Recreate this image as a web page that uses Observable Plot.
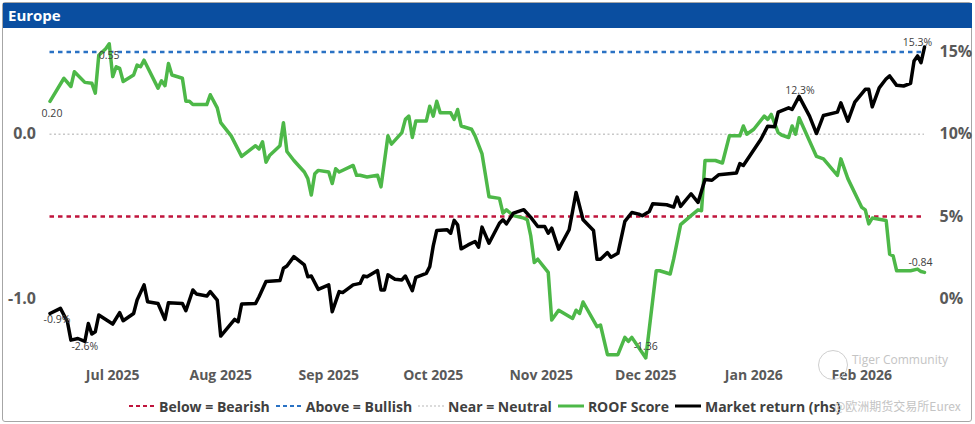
<!DOCTYPE html>
<html><head><meta charset="utf-8">
<script src="https://cdn.jsdelivr.net/npm/d3@7"></script>
<script src="https://cdn.jsdelivr.net/npm/@observablehq/plot@0.6"></script>
<style>
body{margin:0;background:#fff;font-family:"Open Sans",sans-serif;width:975px;height:424px;position:relative;overflow:hidden}
#frame{position:absolute;left:2px;top:2px;width:968px;height:418px;border:1px solid #a6a6a6;border-radius:3px}
#head{position:absolute;left:3px;top:3px;width:969px;height:25px;background:#0a4ea0;color:#fff;font-weight:700;font-size:15px;line-height:25px;padding-left:5px;box-sizing:border-box}
#chart{position:absolute;left:0;top:28px}
#legend{position:absolute;left:128px;top:396px;height:20px;display:flex;align-items:center;font-weight:700;font-size:14px;color:#404040;white-space:nowrap}
#legend .it{display:flex;align-items:center;margin-right:5px}
#legend svg{margin-right:3px}
.wm{position:absolute;color:#c4c4c4;white-space:nowrap}
</style></head>
<body>
<div id="frame"></div>
<div id="head">Europe</div>
<div id="chart"></div>
<div id="legend"></div>
<div class="wm" style="left:818px;top:350px;width:28px;height:28px;border:1px solid #cfcfcf;border-radius:50%"></div>
<div class="wm" style="left:852px;top:352px;font-size:12px;line-height:15px">Tiger Community</div>
<div class="wm" style="left:834px;top:398px;font-size:12px;line-height:15px;font-family:'Noto Sans CJK SC',sans-serif">@欧洲期货交易所Eurex</div>
<script>
// ROOF Score (left axis)
const scoreDates = ["2025-06-13","2025-06-17","2025-06-19","2025-06-20","2025-06-23","2025-06-25","2025-06-26","2025-06-27","2025-06-29","2025-06-30",
"2025-07-01","2025-07-02","2025-07-03","2025-07-04","2025-07-07","2025-07-08","2025-07-09","2025-07-10","2025-07-14","2025-07-15",
"2025-07-16","2025-07-17","2025-07-18","2025-07-21","2025-07-22","2025-07-23","2025-07-24","2025-07-28","2025-07-29","2025-07-31",
"2025-08-01","2025-08-04","2025-08-07","2025-08-11","2025-08-12","2025-08-13","2025-08-14","2025-08-15","2025-08-18","2025-08-19",
"2025-08-20","2025-08-22","2025-08-25","2025-08-26","2025-08-27","2025-08-28","2025-08-29","2025-09-01","2025-09-02","2025-09-03",
"2025-09-04","2025-09-08","2025-09-09","2025-09-10","2025-09-12","2025-09-15","2025-09-16","2025-09-18","2025-09-19","2025-09-22",
"2025-09-23","2025-09-24","2025-09-25","2025-09-26","2025-09-29","2025-09-30","2025-10-01","2025-10-02","2025-10-03","2025-10-06",
"2025-10-07","2025-10-08","2025-10-09","2025-10-12","2025-10-13","2025-10-15","2025-10-16","2025-10-17","2025-10-20","2025-10-21",
"2025-10-22","2025-10-24","2025-10-27","2025-10-28","2025-10-29","2025-10-30","2025-10-31","2025-11-03","2025-11-04","2025-11-06",
"2025-11-10","2025-11-11","2025-11-12","2025-11-13","2025-11-17","2025-11-18","2025-11-20","2025-11-23","2025-11-25","2025-11-26",
"2025-11-27","2025-12-01","2025-12-04","2025-12-05","2025-12-08","2025-12-09","2025-12-11","2025-12-14","2025-12-16","2025-12-17",
"2025-12-18","2025-12-21","2025-12-23","2025-12-25","2025-12-28","2025-12-29","2025-12-30","2026-01-01","2026-01-04","2026-01-05",
"2026-01-06","2026-01-08","2026-01-09","2026-01-11","2026-01-12","2026-01-13","2026-01-14","2026-01-19","2026-01-21","2026-01-25",
"2026-01-26","2026-01-28","2026-02-01","2026-02-02","2026-02-03","2026-02-04","2026-02-08","2026-02-09","2026-02-10","2026-02-11",
"2026-02-15","2026-02-17","2026-02-18","2026-02-19"];
const scoreValues = [0.20,0.34,0.29,0.38,0.315,0.31,0.25,0.48,0.52,0.55,
0.35,0.41,0.40,0.32,0.36,0.42,0.41,0.45,0.28,0.325,
0.295,0.43,0.36,0.34,0.20,0.20,0.18,0.18,0.24,0.16,
0.07,-0.01,-0.135,-0.07,-0.09,-0.046,-0.17,-0.13,-0.07,0.07,
-0.105,-0.16,-0.23,-0.27,-0.37,-0.24,-0.22,-0.23,-0.30,-0.21,
-0.23,-0.19,-0.25,-0.25,-0.26,-0.25,-0.32,-0.01,-0.06,0.01,
0.09,0.11,-0.02,0.08,0.08,0.17,0.11,0.20,0.13,0.13,
0.09,0.15,0.05,0.03,-0.01,-0.12,-0.25,-0.38,-0.39,-0.48,
-0.46,-0.495,-0.51,-0.52,-0.62,-0.78,-0.76,-0.84,-1.13,-1.07,
-1.12,-1.07,-1.09,-1.02,-1.17,-1.16,-1.34,-1.34,-1.235,-1.26,
-1.235,-1.36,-0.83,-0.83,-0.85,-0.76,-0.55,-0.495,-0.46,-0.465,
-0.16,-0.16,-0.175,-0.01,-0.01,0.05,0.00,0.03,0.11,0.09,
0.12,0.01,-0.005,-0.02,0.05,0.00,0.10,-0.135,-0.15,-0.25,
-0.15,-0.27,-0.445,-0.46,-0.545,-0.51,-0.525,-0.73,-0.74,-0.83,
-0.83,-0.82,-0.835,-0.84];

// Market return in % (right axis)
const returnDates = ["2025-06-13","2025-06-16","2025-06-18","2025-06-19","2025-06-21","2025-06-23","2025-06-24","2025-06-25","2025-06-26","2025-06-27",
"2025-07-01","2025-07-03","2025-07-04","2025-07-07","2025-07-08","2025-07-10","2025-07-11","2025-07-14","2025-07-16","2025-07-17",
"2025-07-21","2025-07-22","2025-07-24","2025-07-25","2025-07-28","2025-07-29","2025-07-31","2025-08-01","2025-08-05","2025-08-06",
"2025-08-07","2025-08-11","2025-08-12","2025-08-14","2025-08-18","2025-08-19","2025-08-20","2025-08-22","2025-08-25","2025-08-26",
"2025-08-27","2025-08-29","2025-09-01","2025-09-02","2025-09-04","2025-09-05","2025-09-08","2025-09-10","2025-09-11","2025-09-12",
"2025-09-15","2025-09-16","2025-09-17","2025-09-18","2025-09-20","2025-09-22","2025-09-23","2025-09-25","2025-09-26","2025-09-29",
"2025-09-30","2025-10-01","2025-10-02","2025-10-05","2025-10-06","2025-10-07","2025-10-08","2025-10-09","2025-10-11","2025-10-13",
"2025-10-14","2025-10-15","2025-10-17","2025-10-20","2025-10-21","2025-10-22","2025-10-24","2025-10-27","2025-10-29","2025-10-31",
"2025-11-02","2025-11-03","2025-11-04","2025-11-06","2025-11-09","2025-11-11","2025-11-13","2025-11-16","2025-11-17","2025-11-18",
"2025-11-20","2025-11-21","2025-11-23","2025-11-25","2025-11-27","2025-11-29","2025-11-30","2025-12-02","2025-12-03","2025-12-07",
"2025-12-09","2025-12-10","2025-12-11","2025-12-14","2025-12-16","2025-12-18","2025-12-20","2025-12-22","2025-12-27","2025-12-28",
"2025-12-29","2026-01-03","2026-01-05","2026-01-07","2026-01-08","2026-01-11","2026-01-12","2026-01-14","2026-01-17","2026-01-19",
"2026-01-21","2026-01-25","2026-01-26","2026-01-28","2026-01-30","2026-02-02","2026-02-03","2026-02-04","2026-02-06","2026-02-08",
"2026-02-09","2026-02-11","2026-02-13","2026-02-15","2026-02-16","2026-02-17","2026-02-18","2026-02-19"];
const returnValues = [-0.9,-0.59,-1.4,-2.52,-2.42,-2.6,-1.51,-2.15,-2.01,-0.99,
-1.54,-0.85,-1.34,-0.9,-0.08,0.84,-0.18,-0.29,-1.26,-0.24,
-0.29,-0.73,0.53,0.29,0.16,0.43,-0.08,-2.27,-1.26,-1.4,
-0.32,-0.29,0.12,1.04,1.1,1.85,1.99,2.56,2.05,1.34,
1.38,0.57,0.84,-0.79,0.43,0.37,0.84,0.93,1.38,1.34,
1.71,0.53,0.53,1.45,1.18,1.14,1.38,0.49,1.3,1.54,
1.95,3.21,4.15,4.19,3.98,4.76,4.49,3.03,3.27,3.48,
3.13,4.35,3.37,4.59,4.8,4.55,5.2,5.41,4.94,4.39,
4.39,3.98,4.29,3.01,4.19,6.46,4.8,4.15,2.4,2.4,
2.8,2.52,2.76,4.7,5.24,5.14,5.04,5.3,5.77,5.71,
5.57,6.18,5.61,6.38,5.85,7.24,7.2,7.54,7.64,8.21,
8.1,9.68,10.49,10.45,11.34,11.6,11.5,12.3,11.1,10.04,
11.14,11.34,11.91,10.79,11.95,12.73,12.73,11.66,12.82,13.37,
13.54,12.97,12.93,13.09,14.45,14.76,14.35,15.3];

const monthTicks = ["2025-07-01","2025-08-01","2025-09-01","2025-10-01","2025-11-01","2025-12-01","2026-01-01","2026-02-01"];
const leftTicks = [-1, 0];
const rightTicks = [0, 5, 10, 15];
const bearishLevel = -0.5, bullishLevel = 0.5, neutralLevel = 0;
const legendNames = ["Below = Bearish","Above = Bullish","Near = Neutral","ROOF Score","Market return (rhs)"];

// rhs (%) -> lhs score scale: 0% ↔ -1.0, 15% ↔ 0.5
const toLeft = r => r / 10 - 1;
const score = scoreDates.map((d, i) => ({date: new Date(d), value: scoreValues[i]}));
const ret = returnDates.map((d, i) => ({date: new Date(d), value: toLeft(returnValues[i]), pct: returnValues[i]}));

const pick = (arr, date) => arr.filter(p => +p.date === +new Date(date));
const noteFont = {fontSize: 10.5, fill: "#404040"};

const chart = Plot.plot({
  width: 975, height: 366,
  marginLeft: 49.5, marginRight: 51, marginTop: 7, marginBottom: 30,
  x: {type: "utc", domain: [new Date(scoreDates[0]), new Date(scoreDates[scoreDates.length - 1])]},
  y: {domain: [-1.4, 0.6]},
  style: {fontFamily: "Open Sans, sans-serif", color: "#595959", background: "transparent"},
  marks: [
    Plot.ruleY([neutralLevel], {stroke: "#c8c8c8", strokeWidth: 1.5, strokeDasharray: "2,2.5"}),
    Plot.ruleY([bullishLevel], {stroke: "#2a72c4", strokeWidth: 2.5, strokeDasharray: "4.5,4"}),
    Plot.ruleY([bearishLevel], {stroke: "#c0143c", strokeWidth: 2.5, strokeDasharray: "4.5,4"}),
    Plot.line(score, {x: "date", y: "value", stroke: "#4db848", strokeWidth: 3.5, strokeLinejoin: "round"}),
    Plot.line(ret, {x: "date", y: "value", stroke: "#000", strokeWidth: 3.5, strokeLinejoin: "round"}),
    Plot.axisX(monthTicks.map(d => new Date(d)), {tickSize: 0, tickPadding: 6, tickFormat: d3.utcFormat("%b %Y"), fontSize: 14, fontWeight: 700, fill: "#595959", label: null}),
    Plot.axisY(leftTicks, {anchor: "left", tickSize: 0, tickPadding: 14, tickFormat: d => d.toFixed(1), fontSize: 16, fontWeight: 700, fill: "#595959", label: null}),
    Plot.axisY(rightTicks.map(toLeft), {anchor: "right", tickSize: 0, tickPadding: 15, tickFormat: d => Math.round((d + 1) * 10) + "%", fontSize: 16, fontWeight: 700, fill: "#595959", label: null}),
    // annotations, ROOF score
    Plot.text(pick(score, "2025-06-13"), {x: "date", y: "value", text: d => d.value.toFixed(2), dx: 2, dy: 12, ...noteFont}),
    Plot.text(pick(score, "2025-06-30"), {x: "date", y: "value", text: d => d.value.toFixed(2), dx: 0, dy: 12, ...noteFont}),
    Plot.text(pick(score, "2025-12-01"), {x: "date", y: "value", text: d => d.value.toFixed(2), dx: 0, dy: -11, ...noteFont}),
    Plot.text(pick(score, "2026-02-19"), {x: "date", y: "value", text: d => d.value.toFixed(2), dx: -4, dy: -10, ...noteFont}),
    // annotations, market return
    Plot.text(pick(ret, "2025-06-13"), {x: "date", y: "value", text: d => d.pct.toFixed(1) + "%", dx: 7, dy: 6, ...noteFont}),
    Plot.text(pick(ret, "2025-06-23"), {x: "date", y: "value", text: d => d.pct.toFixed(1) + "%", dx: 0, dy: 5, ...noteFont}),
    Plot.text(pick(ret, "2026-01-14"), {x: "date", y: "value", text: d => d.pct.toFixed(1) + "%", dx: 1, dy: -6, ...noteFont}),
    Plot.text(pick(ret, "2026-02-19"), {x: "date", y: "value", text: d => d.pct.toFixed(1) + "%", dx: -7, dy: -4, ...noteFont})
  ]
});
document.getElementById("chart").appendChild(chart);

// legend
const swatches = [
  {stroke: "#c0143c", dash: "4,3", w: 2},
  {stroke: "#2a72c4", dash: "4,3", w: 2},
  {stroke: "#d0d0d0", dash: "2,2", w: 1.5},
  {stroke: "#4db848", dash: null, w: 3},
  {stroke: "#000", dash: null, w: 3}
];
const leg = document.getElementById("legend");
legendNames.forEach((name, i) => {
  const s = swatches[i];
  const it = document.createElement("div");
  it.className = "it";
  it.innerHTML = `<svg width="28" height="12"><line x1="1" x2="27" y1="6" y2="6" stroke="${s.stroke}" stroke-width="${s.w}" ${s.dash ? `stroke-dasharray="${s.dash}"` : ""}/></svg><span>${name}</span>`;
  leg.appendChild(it);
});
</script>
</body></html>
